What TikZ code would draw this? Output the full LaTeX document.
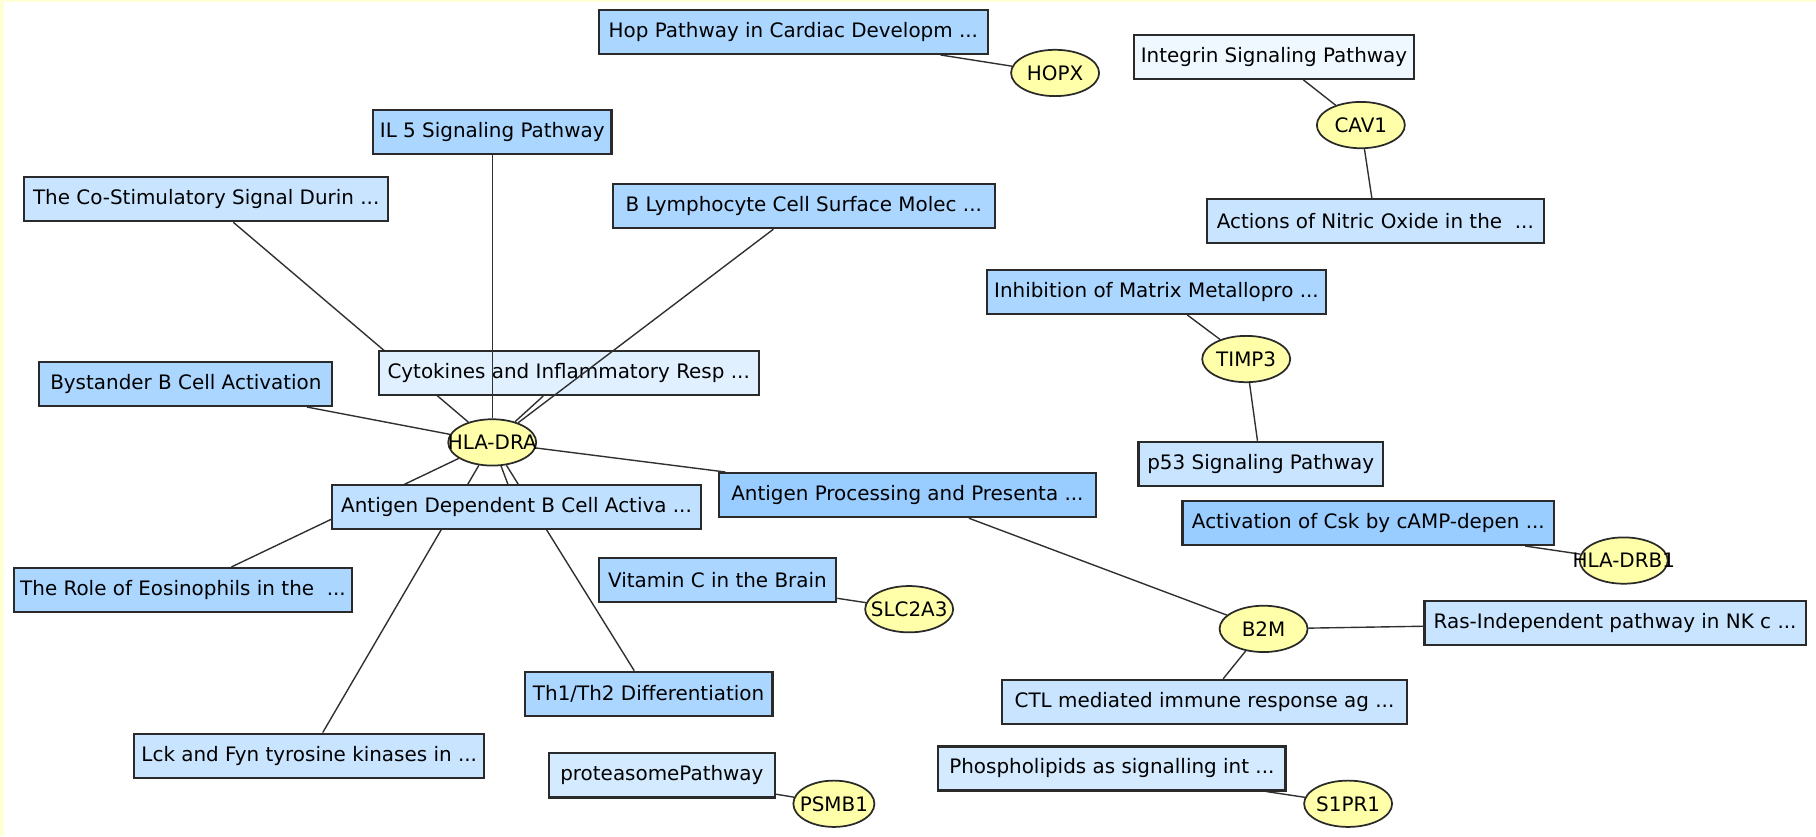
\documentclass[tikz,border=0pt]{standalone}
\usepackage{fontspec}
\setmainfont{DejaVu Sans}
\usetikzlibrary{shapes.geometric}
\pgfdeclarelayer{bglayer}
\pgfdeclarelayer{edgelayer}
\pgfsetlayers{bglayer,edgelayer,main}
\definecolor{cA}{HTML}{99CCFF}
\definecolor{cB}{HTML}{AAD6FF}
\definecolor{cC}{HTML}{C8E4FF}
\definecolor{cC2}{HTML}{BFE0FF}
\definecolor{cD}{HTML}{E0F0FF}
\definecolor{cE}{HTML}{F0F8FF}
\definecolor{cF}{HTML}{D3EAFF}
\definecolor{geneyellow}{HTML}{FFFFAA}
\definecolor{boxline}{HTML}{2A2A2A}
\definecolor{edgecol}{HTML}{303030}
\definecolor{framey}{HTML}{FFFFD6}
\tikzset{
  pw/.style={rectangle, draw=boxline, line width=0.95pt, minimum height=19pt,
    inner xsep=2pt, inner ysep=0pt, font=\fontsize{8.6}{10}\selectfont, text=black},
  gene/.style={ellipse, draw=boxline, fill=geneyellow, line width=0.75pt,
    minimum width=38pt, minimum height=20pt, inner sep=0pt},
  genetext/.style={font=\fontsize{8.6}{10}\selectfont, text=black},
  link/.style={draw=edgecol, line width=0.6pt}
}
\begin{document}
\begin{tikzpicture}[x=0.5pt,y=-0.5pt]
\useasboundingbox (0,0) rectangle (1568,722);
\begin{pgfonlayer}{bglayer}
\fill[white] (0,0) rectangle (1568,722);
\fill[framey] (0,0) rectangle (1568,2);
\fill[framey] (0,0) rectangle (3.5,722);
\end{pgfonlayer}

% pathway boxes
\node[pw, fill=cB, minimum width=168pt] (hop) at (685,27.5) {Hop Pathway in Cardiac Developm ...};
\node[pw, fill=cE, minimum width=121pt] (integrin) at (1100,49) {Integrin Signaling Pathway};
\node[pw, fill=cB, minimum width=103pt] (il5) at (425,114) {IL 5 Signaling Pathway};
\node[pw, fill=cC, minimum width=157pt] (costim) at (178,172) {The Co-Stimulatory Signal Durin ...};
\node[pw, fill=cB, minimum width=165pt] (blymph) at (694,178) {B Lymphocyte Cell Surface Molec ...};
\node[pw, fill=cC, minimum width=145.5pt] (actions) at (1187.5,191) {Actions of Nitric Oxide in the~ ...};
\node[pw, fill=cB, minimum width=146.5pt] (inhib) at (998.5,252) {Inhibition of Matrix Metallopro ...};
\node[pw, fill=cD, minimum width=164pt] (cyto) at (491,322) {Cytokines and Inflammatory Resp ...};
\node[pw, fill=cB, minimum width=126.5pt] (bystander) at (160.5,331.5) {Bystander B Cell Activation};
\node[pw, fill=cC, minimum width=105.5pt] (p53) at (1088.5,400.5) {p53 Signaling Pathway};
\node[pw, fill=cA, minimum width=162.5pt] (agproc) at (783.5,427.5) {Antigen Processing and Presenta ...};
\node[pw, fill=cC2, minimum width=159pt] (agdep) at (446,438) {Antigen Dependent B Cell Activa ...};
\node[pw, fill=cA, minimum width=160.5pt] (csk) at (1181.5,451.5) {Activation of Csk by cAMP-depen ...};
\node[pw, fill=cB, minimum width=146pt] (eos) at (158,509.5) {The Role of Eosinophils in the~ ...};
\node[pw, fill=cB, minimum width=102.5pt] (vitc) at (619.5,501) {Vitamin C in the Brain};
\node[pw, fill=cC, minimum width=164.5pt] (ras) at (1394.5,538) {Ras-Independent pathway in NK c ...};
\node[pw, fill=cB, minimum width=107pt] (th) at (560,599) {Th1/Th2 Differentiation};
\node[pw, fill=cC, minimum width=175pt] (ctl) at (1040,606) {CTL mediated immune response ag ...};
\node[pw, fill=cC, minimum width=151pt] (lck) at (267,652.5) {Lck and Fyn tyrosine kinases in ...};
\node[pw, fill=cF, minimum width=97.5pt] (prot) at (571.5,669.5) {proteasomePathway};
\node[pw, fill=cF, minimum width=150pt] (phos) at (960,663.5) {Phospholipids as signalling int ...};

% genes
\node[gene, label={[genetext]center:HOPX}] (hopx) at (911,63) {};
\node[gene, label={[genetext]center:CAV1}] (cav1) at (1175,108) {};
\node[gene, label={[genetext]center:TIMP3}] (timp3) at (1076,310) {};
\node[gene, label={[genetext]center:HLA-DRA}] (hladra) at (425,382) {};
\node[gene, label={[genetext]center:HLA-DRB1}] (hladrb1) at (1402,484) {};
\node[gene, label={[genetext]center:SLC2A3}] (slc2a3) at (785,526) {};
\node[gene, label={[genetext]center:B2M}] (b2m) at (1091,543) {};
\node[gene, minimum width=35pt, label={[genetext]center:PSMB1}] (psmb1) at (720,694) {};
\node[gene, label={[genetext]center:S1PR1}] (s1pr1) at (1164,694) {};

% edges below the nodes
\begin{pgfonlayer}{edgelayer}
\draw[link] (hladra) -- (costim);
\draw[link] (hladra) -- (cyto);
\draw[link] (hladra) -- (bystander);
\draw[link] (hladra) -- (agproc);
\draw[link] (hladra) -- (agdep);
\draw[link] (hladra) -- (eos);
\draw[link] (hladra) -- (lck);
\draw[link] (hladra) -- (th);
\draw[link] (hopx) -- (hop);
\draw[link] (cav1) -- (integrin);
\draw[link] (cav1) -- (actions);
\draw[link] (timp3) -- (inhib);
\draw[link] (timp3) -- (p53);
\draw[link] (hladrb1) -- (csk);
\draw[link] (b2m) -- (agproc);
\draw[link] (b2m) -- (ras);
\draw[link] (b2m) -- (ctl);
\draw[link] (slc2a3) -- (vitc);
\draw[link] (psmb1) -- (prot);
\draw[link] (s1pr1) -- (phos);
\end{pgfonlayer}
% edges drawn over the Cytokines box
\draw[link] (hladra) -- (il5);
\draw[link] (hladra) -- (blymph);
\end{tikzpicture}
\end{document}
